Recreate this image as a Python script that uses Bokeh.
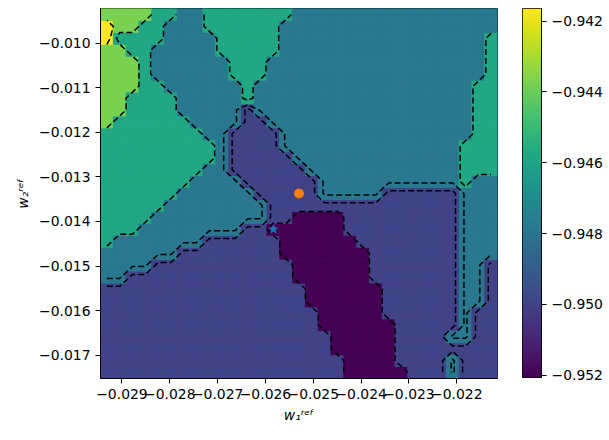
import numpy as np
from bokeh.plotting import figure
from bokeh.models import Range1d, FixedTicker, LinearColorMapper, ColumnDataSource
from bokeh.transform import linear_cmap
from bokeh.palettes import Viridis256
from bokeh.layouts import row
from bokeh.embed import file_html
from bokeh.resources import INLINE

# ---------------- data ----------------
# Level code of every grid cell (top row first), run-length encoded as (code, count).
# 0 = lowest value (dark purple) ... 5 = highest value (yellow)
grid_rows_rle = [
    [(4, 4), (3, 2), (2, 2), (3, 7), (2, 16)],
    [(5, 1), (4, 2), (3, 2), (2, 3), (3, 6), (2, 17)],
    [(5, 1), (3, 4), (2, 4), (3, 5), (2, 16), (3, 1)],
    [(4, 2), (3, 2), (2, 5), (3, 5), (2, 16), (3, 1)],
    [(4, 3), (3, 1), (2, 6), (3, 3), (2, 17), (3, 1)],
    [(4, 3), (3, 1), (2, 6), (3, 3), (2, 17), (3, 1)],
    [(4, 3), (3, 2), (2, 6), (3, 1), (2, 17), (3, 2)],
    [(4, 2), (3, 4), (2, 5), (3, 1), (2, 17), (3, 2)],
    [(4, 2), (3, 4), (2, 5), (1, 1), (2, 17), (3, 2)],
    [(4, 1), (3, 6), (2, 4), (1, 2), (2, 16), (3, 2)],
    [(3, 8), (2, 2), (1, 4), (2, 15), (3, 2)],
    [(3, 9), (2, 1), (1, 4), (2, 14), (3, 3)],
    [(3, 9), (2, 1), (1, 5), (2, 13), (3, 3)],
    [(3, 8), (2, 2), (1, 6), (2, 12), (3, 3)],
    [(3, 7), (2, 4), (1, 6), (2, 11), (3, 1), (2, 2)],
    [(3, 6), (2, 6), (1, 5), (2, 5), (1, 6), (2, 3)],
    [(3, 5), (2, 8), (1, 15), (2, 3)],
    [(3, 4), (2, 9), (1, 2), (0, 4), (1, 9), (2, 3)],
    [(3, 3), (2, 8), (1, 2), (0, 6), (1, 9), (2, 3)],
    [(3, 1), (2, 7), (1, 6), (0, 6), (1, 8), (2, 3)],
    [(2, 6), (1, 8), (0, 7), (1, 7), (2, 3)],
    [(2, 4), (1, 11), (0, 6), (1, 7), (2, 2), (1, 1)],
    [(2, 2), (1, 13), (0, 6), (1, 7), (2, 2), (1, 1)],
    [(1, 16), (0, 6), (1, 6), (2, 2), (1, 1)],
    [(1, 16), (0, 6), (1, 6), (2, 2), (1, 1)],
    [(1, 17), (0, 5), (1, 6), (2, 1), (1, 2)],
    [(1, 17), (0, 6), (1, 5), (2, 1), (1, 2)],
    [(1, 18), (0, 5), (1, 4), (2, 2), (1, 2)],
    [(1, 18), (0, 5), (1, 8)],
    [(1, 19), (0, 4), (1, 4), (2, 1), (1, 3)],
    [(1, 19), (0, 5), (1, 3), (2, 1), (1, 3)],
]
level_values = [-0.95207, -0.94999, -0.94790, -0.94582, -0.94373, -0.94164]
contour_levels = [-0.95103, -0.94953, -0.94815, -0.94668, -0.94478, -0.94269]

w1_center = -0.0252985
w2_center = -0.013372
half_span = 0.004016
n_grid = 31

start_w1 = [w1_center]
start_w2 = [w2_center]
star_w1 = [-0.025834]
star_w2 = [-0.014175]

x_ticks = [-0.029, -0.028, -0.027, -0.026, -0.025, -0.024, -0.023, -0.022]
x_tick_labels = ["−0.029", "−0.028", "−0.027", "−0.026", "−0.025", "−0.024", "−0.023", "−0.022"]
y_ticks = [-0.010, -0.011, -0.012, -0.013, -0.014, -0.015, -0.016, -0.017]
y_tick_labels = ["−0.010", "−0.011", "−0.012", "−0.013", "−0.014", "−0.015", "−0.016", "−0.017"]
cbar_ticks = [-0.952, -0.950, -0.948, -0.946, -0.944, -0.942]
cbar_tick_labels = ["−0.952", "−0.950", "−0.948", "−0.946", "−0.944", "−0.942"]

# ---------------- build ----------------
codes = []
for r in grid_rows_rle:
    line = []
    for code, count in r:
        line.extend([code] * count)
    codes.append(line[:n_grid] + [line[-1]] * max(0, n_grid - len(line)))
codes = np.array(codes)[::-1]  # bottom row first
z = np.array(level_values)[codes]

xs = np.linspace(w1_center - half_span, w1_center + half_span, n_grid)
ys = np.linspace(w2_center - half_span, w2_center + half_span, n_grid)
dx = xs[1] - xs[0]
dy = ys[1] - ys[0]
X, Y = np.meshgrid(xs, ys)
vmin, vmax = min(level_values), max(level_values)

src = ColumnDataSource(dict(x=X.ravel(), y=Y.ravel(), z=z.ravel()))

FONT = "DejaVu Sans"
FS = "13.9px"

TOP = 7
BOTTOM = 48
p = figure(frame_width=397, frame_height=370,
           x_range=Range1d(xs[0] - dx / 2, xs[-1] + dx / 2),
           y_range=Range1d(ys[0] - dy / 2, ys[-1] + dy / 2),
           output_backend="svg", toolbar_location=None,
           min_border_left=100, min_border_right=25, min_border_top=TOP,
           min_border_bottom=BOTTOM)

cmap = linear_cmap("z", Viridis256, vmin, vmax)
p.rect(x="x", y="y", width=dx, height=dy, source=src,
       fill_color=cmap, line_color=cmap, line_width=1.0)
p.contour(xs, ys, z, contour_levels, line_color="black", line_dash="6 3", line_width=1.5)
p.scatter(star_w1, star_w2, marker="star", size=9, color="#1f77b4")
p.scatter(start_w1, start_w2, marker="circle", size=9, color="#ff7f0e")

p.grid.visible = False
p.outline_line_color = "black"
p.outline_line_width = 1
p.background_fill_color = "white"

p.xaxis.ticker = FixedTicker(ticks=x_ticks)
p.xaxis.major_label_overrides = dict(zip(x_ticks, x_tick_labels))
p.yaxis.ticker = FixedTicker(ticks=y_ticks)
p.yaxis.major_label_overrides = dict(zip(y_ticks, y_tick_labels))
p.xaxis.axis_label = "w₁ʳᵉᶠ"
p.yaxis.axis_label = "w₂ʳᵉᶠ"
for ax in p.axis:
    ax.major_label_text_font = FONT
    ax.major_label_text_font_size = FS
    ax.major_label_text_color = "black"
    ax.axis_label_text_font = FONT
    ax.axis_label_text_font_size = FS
    ax.axis_label_text_font_style = "italic"
    ax.axis_label_text_color = "black"
    ax.major_tick_out = 5
    ax.major_tick_in = 0
    ax.minor_tick_out = 0
    ax.minor_tick_in = 0
    ax.major_label_standoff = 5
    ax.axis_label_standoff = 5
    ax.axis_line_color = "black"
    ax.major_tick_line_color = "black"

# ---------------- colorbar ----------------
main_height = TOP + 370 + BOTTOM
cb_top = TOP + 1
cb = figure(frame_width=19, frame_height=369,
            x_range=Range1d(0, 1), y_range=Range1d(vmin, vmax),
            output_backend="svg", toolbar_location=None, y_axis_location="right",
            min_border_left=0, min_border_right=55, min_border_top=cb_top,
            min_border_bottom=main_height - cb_top - 369)
grad = np.linspace(vmin, vmax, 256).reshape(256, 1)
cb.image(image=[grad], x=0, y=vmin, dw=1, dh=vmax - vmin,
         color_mapper=LinearColorMapper(palette=Viridis256, low=vmin, high=vmax))
cb.xaxis.visible = False
cb.grid.visible = False
cb.outline_line_color = "black"
cb.outline_line_width = 1
cb.yaxis.ticker = FixedTicker(ticks=cbar_ticks)
cb.yaxis.major_label_overrides = dict(zip(cbar_ticks, cbar_tick_labels))
cb.yaxis.major_label_text_font = FONT
cb.yaxis.major_label_text_font_size = FS
cb.yaxis.major_label_text_color = "black"
cb.yaxis.major_tick_out = 5
cb.yaxis.major_tick_in = 0
cb.yaxis.minor_tick_out = 0
cb.yaxis.minor_tick_in = 0
cb.yaxis.major_label_standoff = 5
cb.yaxis.axis_line_color = "black"

layout = row(p, cb)
open("out.html", "w").write(file_html(layout, INLINE))
